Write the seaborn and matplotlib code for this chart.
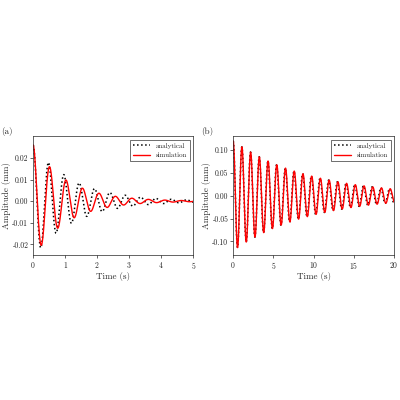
import matplotlib
matplotlib.use("Agg")
import matplotlib.pyplot as plt
import numpy as np
import seaborn as sns

# model parameters: (amplitude mm, decay 1/s, period s)
analytical_a = (0.026, 0.78, 0.48)
simulation_a = (0.026, 0.95, 0.515)
analytical_b = (0.12, 0.105, 1.08)
simulation_b = (0.12, 0.105, 1.085)
xlim_a, ylim_a = (0, 5), (-0.025, 0.03)
xlim_b, ylim_b = (0, 20), (-0.13, 0.13)
yticks_a = [-0.02, -0.01, 0.0, 0.01, 0.02]
yticks_b = [-0.10, -0.05, 0.0, 0.05, 0.10]


def response(t, params):
    amp, decay, period = params
    return amp * np.exp(-decay * t) * np.cos(2 * np.pi * t / period)


sns.set_theme(style="ticks")
plt.rcParams["font.family"] = ["cmr10", "DejaVu Serif"]
plt.rcParams["axes.formatter.use_mathtext"] = True
plt.rcParams["mathtext.fontset"] = "cm"

fig = plt.figure(figsize=(4, 4), dpi=100)
ax1 = fig.add_axes([0.083, 0.362, 0.4, 0.297])
ax2 = fig.add_axes([0.583, 0.362, 0.402, 0.297])

panels = [
    (ax1, analytical_a, simulation_a, xlim_a, ylim_a, yticks_a, "(a)"),
    (ax2, analytical_b, simulation_b, xlim_b, ylim_b, yticks_b, "(b)"),
]
for ax, ana, sim, xlim, ylim, yt, tag in panels:
    t = np.linspace(xlim[0], xlim[1], 2000)
    sns.lineplot(x=t, y=response(t, ana), ax=ax, color="black", linestyle=":",
                 linewidth=1.1, label="analytical")
    sns.lineplot(x=t, y=response(t, sim), ax=ax, color="red", linewidth=1.0,
                 label="simulation")
    ax.set_xlim(*xlim)
    ax.set_ylim(*ylim)
    ax.set_yticks(yt)
    ax.yaxis.set_major_formatter(matplotlib.ticker.FormatStrFormatter("%.2f"))
    ax.set_xlabel("Time (s)", fontsize=6.5, labelpad=1)
    ax.set_ylabel("Amplitude (mm)", fontsize=6.5, labelpad=1)
    ax.tick_params(labelsize=5.5, length=2, width=0.5, pad=1.5)
    for s in ax.spines.values():
        s.set_linewidth(0.5)
    leg = ax.legend(loc="upper right", fontsize=5, fancybox=False,
                    edgecolor="black", handlelength=2.5, borderpad=0.4)
    leg.get_frame().set_linewidth(0.5)
    ax.text(-0.2, 1.0, tag, transform=ax.transAxes, fontsize=6.5, va="bottom")

fig.savefig("out.png", dpi=100)
